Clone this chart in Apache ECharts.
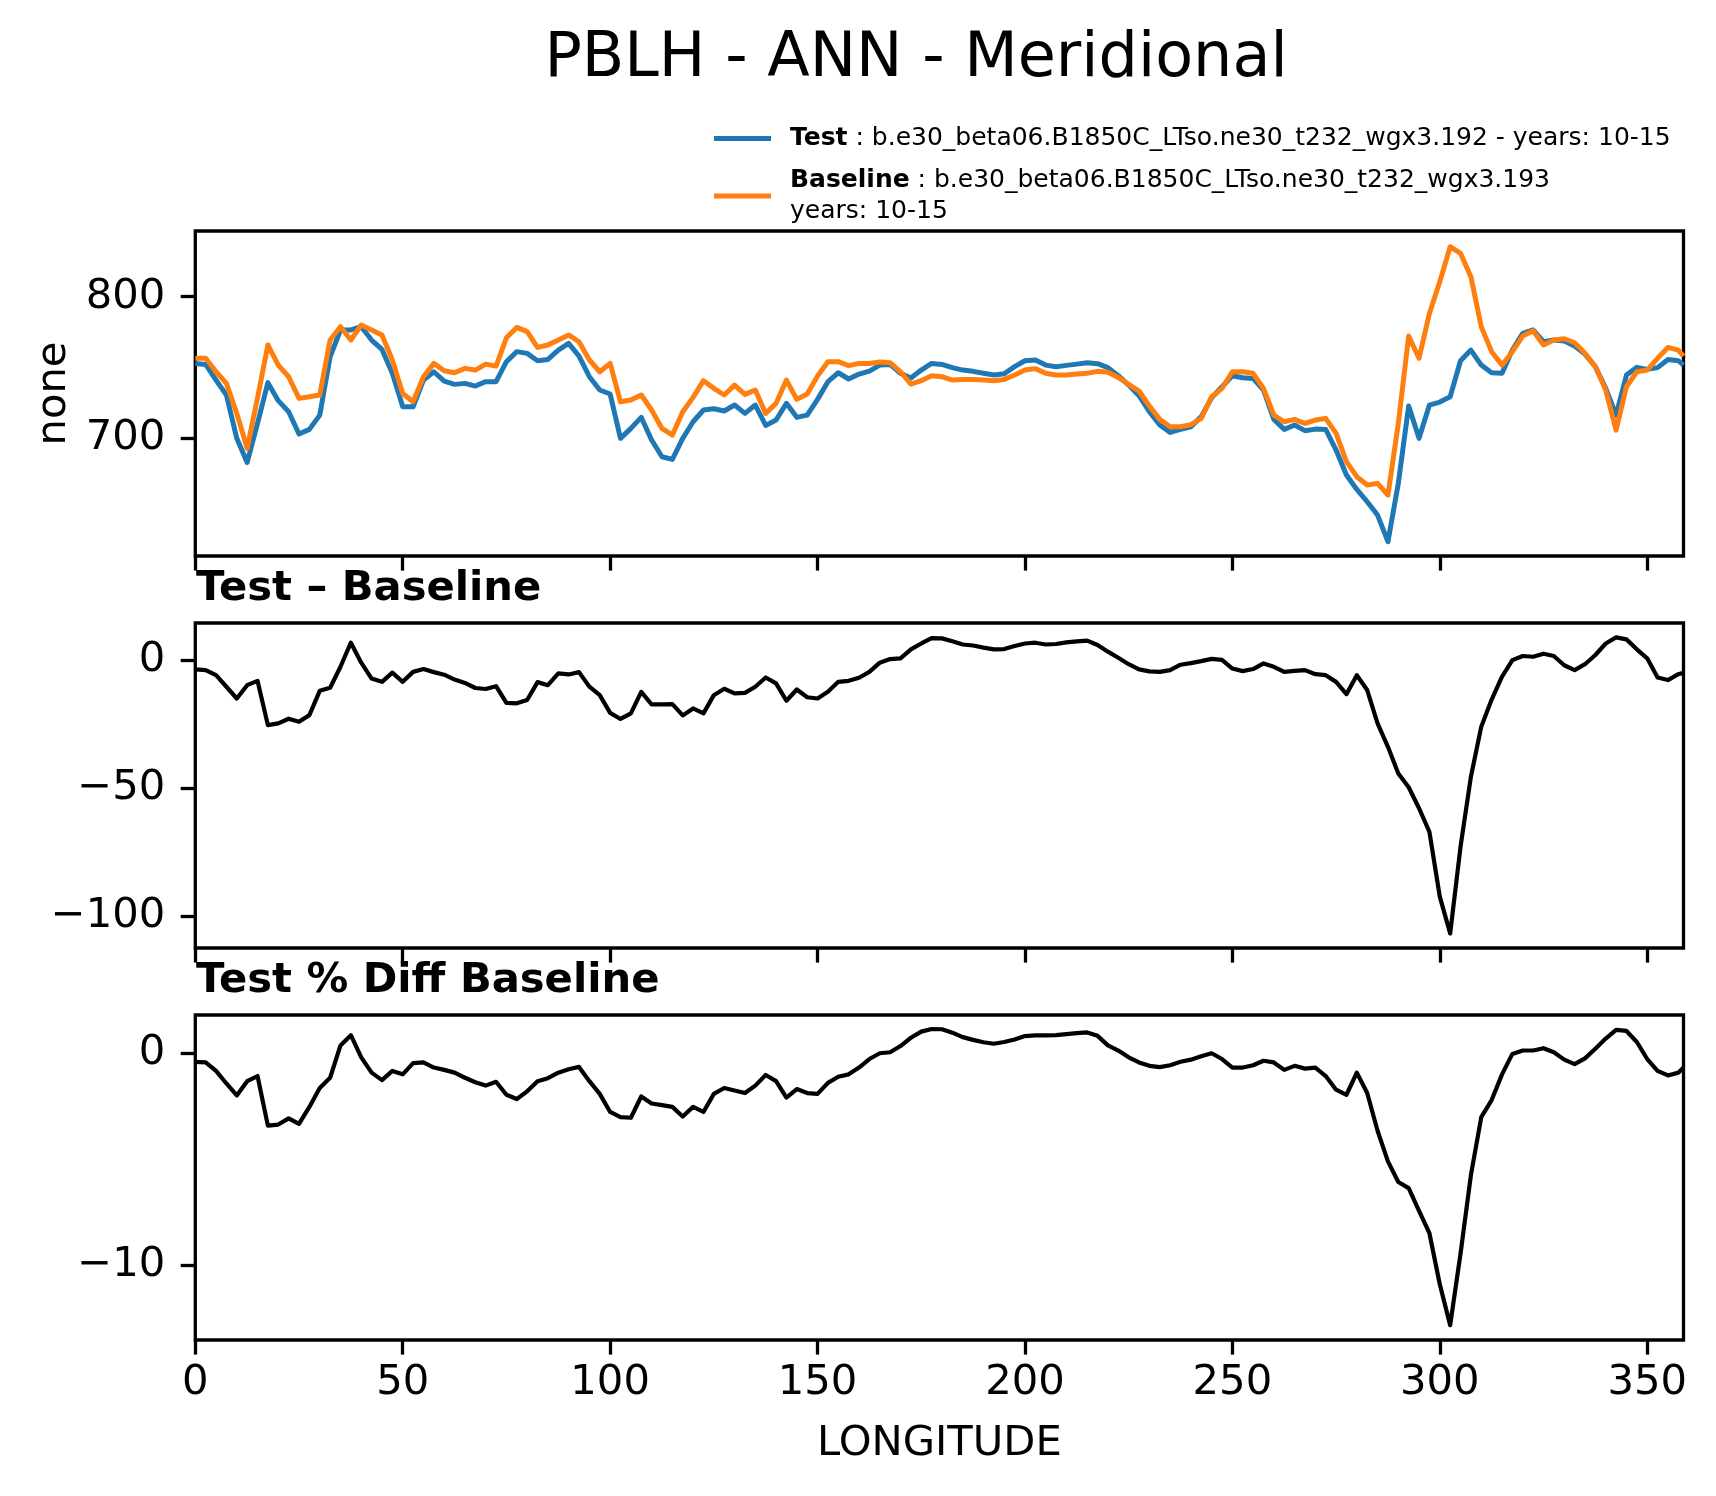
<!DOCTYPE html>
<html><head><meta charset="utf-8">
<script src="https://cdn.jsdelivr.net/npm/echarts@6.0.0/dist/echarts.min.js"></script>
<style>html,body{margin:0;padding:0;background:#fff}#c{width:1716px;height:1496px}</style>
</head><body><div id="c"></div>
<script>
const lon = [0,2.5,5,7.5,10,12.5,15,17.5,20,22.5,25,27.5,30,32.5,35,37.5,40,42.5,45,47.5,50,52.5,55,57.5,60,62.5,65,67.5,70,72.5,75,77.5,80,82.5,85,87.5,90,92.5,95,97.5,100,102.5,105,107.5,110,112.5,115,117.5,120,122.5,125,127.5,130,132.5,135,137.5,140,142.5,145,147.5,150,152.5,155,157.5,160,162.5,165,167.5,170,172.5,175,177.5,180,182.5,185,187.5,190,192.5,195,197.5,200,202.5,205,207.5,210,212.5,215,217.5,220,222.5,225,227.5,230,232.5,235,237.5,240,242.5,245,247.5,250,252.5,255,257.5,260,262.5,265,267.5,270,272.5,275,277.5,280,282.5,285,287.5,290,292.5,295,297.5,300,302.5,305,307.5,310,312.5,315,317.5,320,322.5,325,327.5,330,332.5,335,337.5,340,342.5,345,347.5,350,352.5,355,357.5,358.75];

const testVals = [752.9,752.2,741.1,730.6,700,683,710.5,739.3,726.6,718.8,703,706.3,716.4,757.6,776.5,776.5,778.8,769.4,762.8,745.9,722.3,722.3,741.1,747,740.4,738.1,738.8,736.9,740,740,754.1,761.2,760,754.8,755.7,762.3,767,758.1,743.5,734.1,731.3,700,707,714.8,698.8,687,685.1,700,711.7,720,720.9,719.3,723.5,717.6,723.5,709.1,712.9,724.7,714.8,716.4,727.5,740,746.3,741.9,745.4,747.5,751.7,752.2,745.9,742.6,748.2,752.9,752.2,749.9,748.2,747.3,745.9,744.7,745.6,750.6,754.8,755.3,751.7,750.6,751.5,752.4,753.4,752.7,749.9,744.2,737.6,730.1,718.8,709.4,704.2,706.3,708.2,715.3,728.7,736.4,744.2,742.8,742.3,734.1,713.4,706.3,709.4,705.4,706.5,706.3,691.7,674.1,663.9,655.2,645.8,627,668.2,722.8,700,723.5,725.6,729.4,754.8,762.3,751.7,746.3,745.9,762.3,774.1,776.5,768.2,769.4,768.7,765.2,759.5,750.6,735.3,716.4,744.7,750.1,748.7,749.9,755.7,754.8,751.7];

const baseVals = [756.5,756.5,747,738.8,717.6,692.9,728.4,765.9,751.7,743.5,728.2,729.4,730.6,769.4,778.8,769.4,780,776.5,772.9,755.3,731.7,725.8,743.5,752.9,747.7,746.3,749.4,748.2,752.4,751,771,778.3,775.3,764.2,765.9,769.4,773,768.2,755.3,747,752.9,725.8,727,730.6,720,707,702.3,718.8,728.9,740.7,735.3,730.6,737.6,731,734.1,717.6,724.7,741.1,727.5,731.3,744,754.1,754.1,751.3,752.9,752.9,753.9,753.4,747,738.3,740.7,744.2,743.5,741.1,741.6,741.6,741.1,740.7,741.6,744.7,748.2,749.2,745.9,744.7,744.7,745.4,745.9,747.3,746.6,743,738.1,733.4,722.8,713.4,708.2,708.2,709.6,714.1,729.4,735.3,747,747,745.9,735.3,716.4,711.7,713.4,710.5,712.9,714.1,703.5,683.5,672.9,667,668.2,659.9,710.5,772.2,756.5,788.2,810.6,835.3,830.6,814.1,778.8,761.2,751.7,761.2,772.2,776,765.9,769.4,770.3,767.5,760,750.6,734.1,705.8,736.4,747,748.2,756.5,764.2,762.3,758.1];

const diffVals = [-3.6,-3.9,-5.9,-10.4,-15,-9.8,-8.1,-25.4,-24.7,-22.9,-24.1,-21.5,-12,-10.8,-2.6,6.8,-1,-7.2,-8.5,-4.9,-8.5,-4.6,-3.5,-4.7,-5.7,-7.6,-8.9,-10.9,-11.3,-10.2,-16.7,-16.9,-15.6,-8.6,-9.8,-5.2,-5.6,-4.7,-10.4,-13.7,-20.6,-23,-20.8,-12.4,-17.3,-17.3,-17.2,-21.6,-18.9,-20.8,-13.7,-11.2,-13,-12.8,-10.4,-6.8,-9.1,-15.9,-11.5,-14.5,-15,-12.4,-8.5,-8.1,-6.9,-4.6,-1,0.4,0.7,4.2,6.5,8.6,8.5,7.4,6.1,5.7,4.9,4.2,4.3,5.5,6.5,6.8,6.1,6.3,6.9,7.3,7.6,5.9,3.3,0.9,-1.6,-3.6,-4.4,-4.6,-3.9,-1.8,-1.2,-0.4,0.5,0.1,-3.3,-4.3,-3.5,-1.3,-2.6,-4.6,-4.2,-3.9,-5.5,-5.9,-8.5,-13.3,-5.9,-11.7,-24.7,-33.9,-44.3,-49.7,-57.9,-67.1,-92.4,-106.8,-72.9,-45.6,-26,-15.4,-6.5,0,1.6,1.3,2.5,1.6,-2,-3.9,-1.6,2,6.5,8.9,8.1,4.2,0.7,-6.8,-7.8,-5.5,-4.9];

const pctVals = [-0.42,-0.45,-0.85,-1.44,-2.0,-1.33,-1.09,-3.42,-3.37,-3.08,-3.34,-2.54,-1.65,-1.17,0.35,0.83,-0.21,-0.93,-1.28,-0.85,-1.01,-0.48,-0.45,-0.69,-0.8,-0.93,-1.17,-1.38,-1.54,-1.36,-1.97,-2.17,-1.81,-1.33,-1.19,-0.93,-0.77,-0.66,-1.33,-1.93,-2.78,-3.02,-3.05,-2.05,-2.38,-2.46,-2.54,-2.99,-2.54,-2.78,-1.93,-1.65,-1.77,-1.89,-1.54,-1.04,-1.33,-2.1,-1.7,-1.89,-1.93,-1.41,-1.12,-1.01,-0.69,-0.29,-0.02,0.03,0.32,0.71,1.0,1.12,1.11,0.95,0.74,0.61,0.5,0.43,0.51,0.63,0.79,0.82,0.82,0.83,0.88,0.93,0.96,0.8,0.35,0.11,-0.21,-0.45,-0.61,-0.67,-0.58,-0.42,-0.32,-0.16,-0.02,-0.29,-0.69,-0.69,-0.58,-0.37,-0.45,-0.8,-0.61,-0.74,-0.69,-1.09,-1.73,-1.97,-0.93,-1.89,-3.66,-5.1,-6.07,-6.36,-7.43,-8.48,-10.88,-12.8,-9.44,-5.75,-3.02,-2.22,-1.01,-0.05,0.11,0.11,0.22,0.03,-0.32,-0.53,-0.26,0.19,0.67,1.08,1.03,0.51,-0.29,-0.85,-1.06,-0.93,-0.69];

const xTicks = [0,50,100,150,200,250,300,350];
const topTicks = [700,800];
const diffTicks = [-100,-50,0];
const pctTicks = [-10,0];

const FONT = 'DejaVu Sans';
const chart = echarts.init(document.getElementById('c'), null, {renderer:'canvas'});
const gridTops = [231, 623, 1015];
const yRanges = [[616.9,846.4],[-112.5,14.5],[-13.5,1.78]];
const yTickSets = [topTicks, diffTicks, pctTicks];
const fmt = v => String(v).replace('-', '\u2212');

const grids = gridTops.map(t => ({left:195.3, top:t, width:1488.2, height:325, show:true,
  borderColor:'#000', borderWidth:3.3, backgroundColor:'transparent', containLabel:false}));

const xAxes = [0,1,2].map(i => ({
  type:'value', gridIndex:i, min:0, max:358.75, position:'bottom',
  axisLine:{show:false, onZero:false},
  splitLine:{show:false},
  axisTick:{show:true, inside:false, length:14.6, customValues:xTicks, lineStyle:{color:'#000', width:3.3}},
  axisLabel:{show:i===2, customValues:xTicks, color:'#000', fontSize:41.7, fontFamily:FONT, margin:22, formatter:fmt},
  name: i===2 ? 'LONGITUDE' : '',
  nameLocation:'middle', nameGap:83,
  nameTextStyle:{color:'#000', fontSize:41.7, fontFamily:FONT}
}));

const yAxes = [0,1,2].map(i => ({
  type:'value', gridIndex:i, min:yRanges[i][0], max:yRanges[i][1], position:'left',
  axisLine:{show:false, onZero:false},
  splitLine:{show:false},
  axisTick:{show:true, inside:false, length:14.6, customValues:yTickSets[i], lineStyle:{color:'#000', width:3.3}},
  axisLabel:{customValues:yTickSets[i], color:'#000', fontSize:41.7, fontFamily:FONT, margin:30, formatter:fmt},
  name: i===0 ? 'none' : '',
  nameLocation:'middle', nameGap:119, nameRotate:90,
  nameTextStyle:{color:'#000', fontSize:41.7, fontFamily:FONT}
}));

const pairs = arr => lon.map((x,k) => [x, arr[k]]);
const lineSeries = (name, arr, idx, color, w) => ({
  name, type:'line', xAxisIndex:idx, yAxisIndex:idx, data:pairs(arr),
  showSymbol:false, symbol:'none', smooth:false, clip:true,
  lineStyle:{color, width:w, join:'round'}, itemStyle:{color}, emphasis:{disabled:true}
});

chart.setOption({
  animation:false,
  backgroundColor:'#fff',
  title:[
    {text:'PBLH - ANN - Meridional', left:916, top:29, textAlign:'center', padding:0,
     textStyle:{fontSize:62, fontWeight:'normal', fontFamily:FONT, color:'#000'}},
    {text:'Test \u2013 Baseline', left:196, top:568, padding:0,
     textStyle:{fontSize:41.7, fontWeight:'bold', fontFamily:FONT, color:'#000'}},
    {text:'Test % Diff Baseline', left:196, top:960, padding:0,
     textStyle:{fontSize:41.7, fontWeight:'bold', fontFamily:FONT, color:'#000'}}
  ],
  legend:{
    data:['Test','Baseline'], orient:'vertical', left:714, top:123, padding:0,
    itemWidth:57, itemHeight:5, itemGap:11, icon:'rect', selectedMode:false,
    formatter: n => n === 'Test'
      ? '{b|Test} : b.e30_beta06.B1850C_LTso.ne30_t232_wgx3.192 - years: 10-15'
      : '{b|Baseline} : b.e30_beta06.B1850C_LTso.ne30_t232_wgx3.193\nyears: 10-15',
    textStyle:{fontSize:25, fontFamily:FONT, color:'#000', lineHeight:31, padding:[0,0,0,14],
      rich:{b:{fontWeight:'bold', fontSize:25, fontFamily:FONT, color:'#000', lineHeight:31}}}
  },
  grid:grids, xAxis:xAxes, yAxis:yAxes,
  series:[
    lineSeries('Test', testVals, 0, '#1f77b4', 5),
    lineSeries('Baseline', baseVals, 0, '#ff7f0e', 5),
    lineSeries('Test - Baseline', diffVals, 1, '#000', 4.2),
    lineSeries('Test % Diff Baseline', pctVals, 2, '#000', 4.2)
  ]
});
</script></body></html>
